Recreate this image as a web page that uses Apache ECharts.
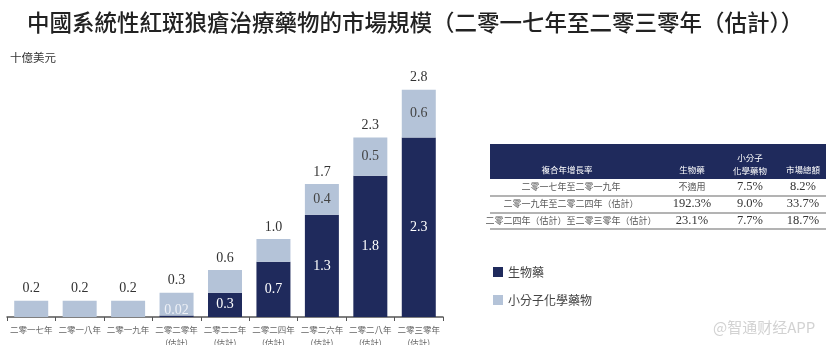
<!DOCTYPE html>
<html>
<head>
<meta charset="utf-8">
<script src="https://cdn.jsdelivr.net/npm/echarts@6/dist/echarts.min.js"></script>
<style>
html,body{margin:0;padding:0;background:#fff;}
#c{width:831px;height:345px;}
</style>
</head>
<body>
<div id="c"></div>
<script>
// ---- data ----
var categories = ['二零一七年', '二零一八年', '二零一九年', '二零二零年\n(估計)', '二零二二年\n(估計)', '二零二四年\n(估計)', '二零二六年\n(估計)', '二零二八年\n(估計)', '二零三零年\n(估計)'];
var bioValues = [0, 0, 0, 0.02, 0.30, 0.68, 1.26, 1.74, 2.21];
var smallValues = [0.20, 0.20, 0.20, 0.28, 0.28, 0.28, 0.38, 0.47, 0.59];
var bioLabels = ['', '', '', '0.02', '0.3', '0.7', '1.3', '1.8', '2.3'];
var smallLabels = ['', '', '', '', '', '', '0.4', '0.5', '0.6'];
var totalLabels = ['0.2', '0.2', '0.2', '0.3', '0.6', '1.0', '1.7', '2.3', '2.8'];
var seriesNames = ['生物藥', '小分子化學藥物'];

var tableHeader = ['複合年增長率', '生物藥', '小分子\n化學藥物', '市場總額'];
var tablePeriods = ['二零一七年至二零一九年', '二零一九年至二零二四年（估計）', '二零二四年（估計）至二零三零年（估計）'];
var tableBio = ['不適用', '192.3%', '23.1%'];
var tableSmall = ['7.5%', '9.0%', '7.7%'];
var tableTotal = ['8.2%', '33.7%', '18.7%'];

// ---- style ----
var DARK = '#1f2a5c';
var LIGHT = '#b4c3d8';
var CJK = '"Noto Sans CJK TC", "Noto Sans CJK SC", sans-serif';
var SERIF = '"Liberation Serif", "DejaVu Serif", serif';

var chart = echarts.init(document.getElementById('c'));

var bioData = bioValues.map(function (v, i) {
  var item = { value: v };
  if (bioLabels[i] === '0.02') {
    item.label = { position: 'insideBottom', distance: 0, color: '#eef1f7' };
  }
  return item;
});

// table graphics
var g = [];
g.push({ type: 'rect', shape: { x: 490, y: 144, width: 336, height: 35 }, style: { fill: DARK }, silent: true });
var colX = [567, 692, 750, 803];
function txt(x, y, s, font, fill) {
  return { type: 'text', x: x, y: y, silent: true,
    style: { text: s, font: font, fill: fill, textAlign: 'center', textVerticalAlign: 'middle', lineHeight: 13 } };
}
g.push(txt(colX[0], 170, tableHeader[0], '8.5px ' + CJK, '#ffffff'));
g.push(txt(colX[1], 170, tableHeader[1], '8.5px ' + CJK, '#ffffff'));
g.push(txt(colX[2], 164, tableHeader[2], '8.5px ' + CJK, '#ffffff'));
g.push(txt(colX[3], 170, tableHeader[3], '8.5px ' + CJK, '#ffffff'));
var rowY = [187, 204, 221];
var lineY = [196, 213, 229];
for (var r = 0; r < tablePeriods.length; r++) {
  g.push(txt(colX[0] + 4, rowY[r], tablePeriods[r], '9px ' + CJK, '#555'));
  var isNum = /\d/.test(tableBio[r]);
  g.push(txt(colX[1], rowY[r], tableBio[r], isNum ? ('12.5px ' + SERIF) : ('9px ' + CJK), isNum ? '#333' : '#555'));
  g.push(txt(colX[2], rowY[r], tableSmall[r], '12.5px ' + SERIF, '#333'));
  g.push(txt(colX[3], rowY[r], tableTotal[r], '12.5px ' + SERIF, '#333'));
  g.push({ type: 'line', silent: true, shape: { x1: 490, y1: lineY[r], x2: 826, y2: lineY[r] }, style: { stroke: '#9a9a9a', lineWidth: 1.5 } });
}
// title / unit / watermark
g.push({ type: 'text', x: 27, y: 22, silent: true,
  style: { text: '中國系統性紅斑狼瘡治療藥物的市場規模（二零一七年至二零三零年（估計））', font: '500 22.5px ' + CJK, fill: '#222', textVerticalAlign: 'middle' } });
g.push({ type: 'text', x: 10, y: 58, silent: true,
  style: { text: '十億美元', font: '11.5px ' + CJK, fill: '#333', textVerticalAlign: 'middle' } });
g.push({ type: 'text', x: 713, y: 327, silent: true,
  style: { text: '@智通财经APP', font: '15px "Noto Sans CJK SC", sans-serif', fill: '#d2d2d2', textVerticalAlign: 'middle' } });

chart.setOption({
  animation: false,
  backgroundColor: '#fff',
  grid: { left: 7, right: 388, top: 73.5, bottom: 28, containLabel: false, outerBoundsMode: 'none' },
  legend: {
    data: seriesNames,
    orient: 'vertical',
    left: 488,
    top: 261,
    itemWidth: 10,
    itemHeight: 10,
    itemGap: 16,
    icon: 'rect',
    textStyle: { fontFamily: CJK, fontSize: 12, color: '#444' }
  },
  xAxis: {
    type: 'category',
    data: categories,
    axisLine: { lineStyle: { color: '#555', width: 1.5 } },
    axisTick: { show: true, length: 4, interval: 0, lineStyle: { color: '#555' } },
    axisLabel: { interval: 0, margin: 6, fontSize: 8.5, lineHeight: 13, color: '#666', fontFamily: CJK }
  },
  yAxis: { type: 'value', min: 0, max: 3, show: false, splitLine: { show: false } },
  series: [
    {
      name: seriesNames[0], type: 'bar', stack: 'a', barWidth: 34,
      itemStyle: { color: DARK },
      data: bioData,
      label: { show: true, position: 'inside', color: '#ffffff', fontFamily: SERIF, fontSize: 14,
        formatter: function (p) { return bioLabels[p.dataIndex]; } }
    },
    {
      name: seriesNames[1], type: 'bar', stack: 'a', barWidth: 34,
      itemStyle: { color: LIGHT },
      data: smallValues,
      label: { show: true, position: 'inside', color: '#444', fontFamily: SERIF, fontSize: 14,
        formatter: function (p) { return smallLabels[p.dataIndex]; } }
    },
    {
      name: '合計', type: 'bar', stack: 'a', barWidth: 34,
      itemStyle: { color: 'rgba(0,0,0,0)' },
      data: totalLabels.map(function () { return 0; }),
      label: { show: true, position: 'top', distance: 5, color: '#333', fontFamily: SERIF, fontSize: 14,
        formatter: function (p) { return totalLabels[p.dataIndex]; } }
    }
  ],
  graphic: g
});
</script>
</body>
</html>
